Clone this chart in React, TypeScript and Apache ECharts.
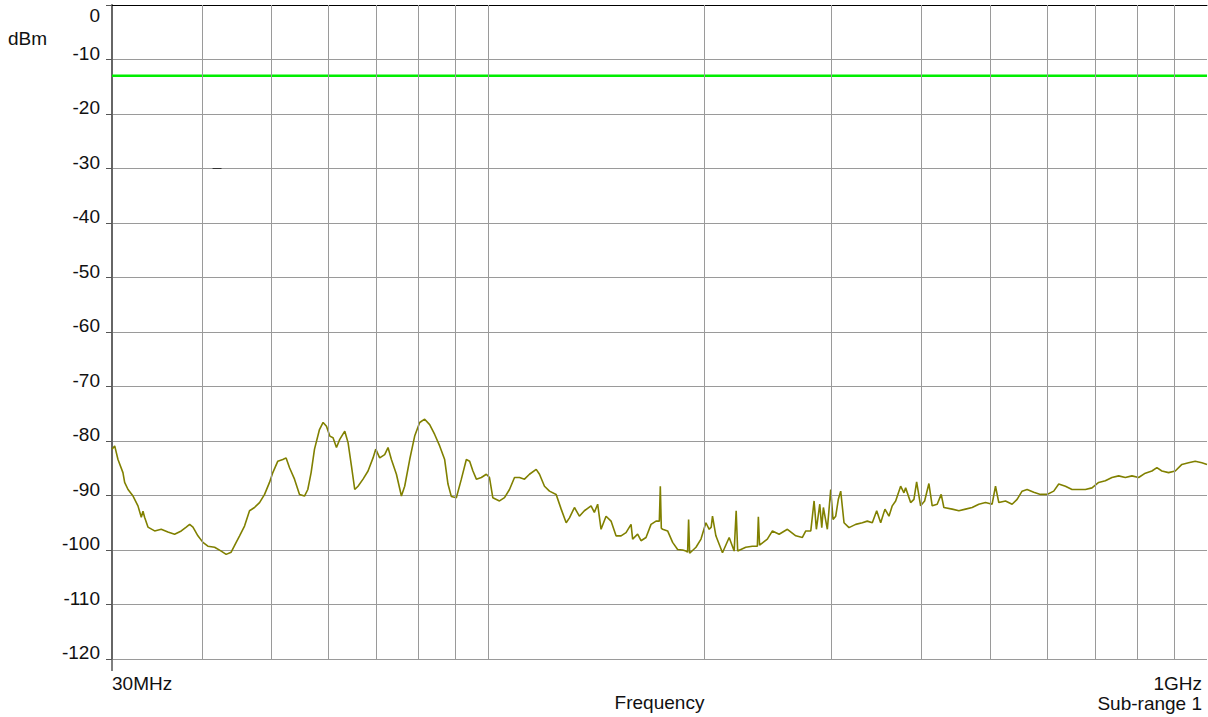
import React, { useEffect, useRef } from "react";
import * as echarts from "echarts";

// ---- data ----
const traceFreqMHz: number[] = [
  30.0, 30.26, 30.58, 31.07, 31.24, 31.58, 32.09, 32.6, 32.95, 33.13, 33.3, 33.66, 34.39, 35.12, 35.88,
  36.66, 37.45, 38.05, 38.47, 38.88, 39.5, 40.14, 40.78, 41.67, 42.56, 43.24, 43.94, 44.65, 45.14, 45.86,
  46.6, 47.35, 48.12, 48.9, 49.68, 50.21, 51.02, 51.84, 52.39, 52.97, 53.82, 54.69, 55.57, 56.16, 56.76,
  57.38, 58.3, 58.98, 59.62, 60.26, 60.89, 61.56, 62.21, 63.22, 63.89, 64.59, 65.27, 65.96, 67.03, 68.11,
  69.21, 69.81, 70.7, 71.84, 72.61, 73.4, 74.59, 75.79, 76.59, 77.83, 79.08, 80.36, 81.65, 82.97, 84.31,
  85.67, 87.05, 87.98, 88.94, 90.37, 91.83, 93.31, 94.3, 95.3, 96.35, 97.9, 99.48, 100.49, 101.56, 103.76,
  105.44, 107.14, 108.87, 110.63, 112.41, 114.22, 116.7, 117.94, 119.84, 121.77, 124.41, 126.42, 128.46,
  129.82, 131.91, 134.0, 136.17, 139.12, 140.59, 142.09, 143.64, 145.96, 148.31, 150.7, 153.14, 155.61,
  158.12, 158.93, 161.49, 163.26, 165.89, 168.57, 171.29, 173.11, 173.66, 174.22, 174.94, 177.77, 180.64,
  183.55, 186.51, 188.55, 189.52, 190.13, 190.74, 194.68, 197.82, 200.95, 203.09, 204.39, 205.24, 207.48,
  211.91, 216.5, 219.99, 221.41, 222.47, 228.31, 233.19, 236.95, 237.71, 238.62, 244.64, 248.66, 254.05,
  260.89, 267.99, 273.71, 276.7, 281.17, 284.15, 286.24, 289.38, 291.23, 292.73, 296.47, 299.71, 301.93,
  304.54, 307.09, 309.45, 312.74, 317.78, 324.67, 331.59, 336.94, 342.38, 347.23, 351.71, 356.55, 361.15,
  364.98, 368.97, 374.92, 378.9, 380.96, 387.1, 391.22, 394.61, 399.68, 404.83, 410.43, 414.78, 421.47,
  426.89, 430.59, 442.18, 451.76, 461.53, 471.38, 481.58, 492.01, 502.51, 508.0, 513.4, 524.53, 535.73,
  544.37, 553.14, 562.07, 574.23, 586.7, 599.16, 612.14, 622.01, 635.47, 649.02, 663.1, 677.43, 691.9,
  706.86, 722.17, 737.56, 753.57, 769.89, 786.3, 803.36, 820.76, 838.27, 851.77, 865.5, 884.23, 903.38,
  922.66, 942.64, 962.98, 983.56, 1000,
];
const traceLevelDbm: number[] = [
  -81.5, -80.9, -83.4, -85.8, -87.6, -88.9, -90.1, -91.9, -94.0, -92.9, -94.0, -95.8, -96.5, -96.2, -96.7,
  -97.1, -96.5, -95.8, -95.3, -95.8, -97.4, -98.6, -99.3, -99.5, -100.2, -100.8, -100.4, -98.6, -97.4, -95.6,
  -92.8, -92.2, -91.3, -89.8, -87.6, -85.8, -83.7, -83.4, -83.1, -84.9, -87.0, -89.8, -90.1, -88.9, -85.8,
  -81.5, -77.9, -76.6, -77.3, -79.1, -79.4, -81.2, -79.7, -78.2, -80.3, -84.6, -88.9, -88.3, -87.0, -85.5,
  -83.1, -81.5, -83.1, -82.5, -81.2, -83.4, -86.1, -90.1, -88.3, -83.4, -79.1, -76.6, -76.0, -77.0, -78.8,
  -80.9, -83.4, -87.9, -90.2, -90.4, -87.0, -83.4, -83.7, -85.5, -87.0, -86.7, -86.1, -86.7, -90.4, -91.0,
  -90.4, -88.9, -86.7, -86.7, -87.0, -86.1, -85.2, -86.1, -88.3, -89.2, -89.8, -92.5, -95.0,
  -94.1, -92.2, -93.8, -92.8, -91.9, -93.1, -91.6, -96.2, -93.8, -94.7, -97.4, -97.4, -96.8,
  -95.3, -98.0, -97.1, -98.3, -97.7, -95.3, -94.7, -94.7, -88.3, -96.0, -96.2, -96.5, -98.6,
  -99.9, -100.0, -100.2, -100.4, -94.4, -100.6, -99.5, -98.0, -95.0, -96.2, -95.8, -93.8, -97.4,
  -100.5, -97.7, -100.2, -92.8, -100.2, -99.5, -99.3, -99.3, -93.9, -99.1, -98.0, -96.5, -97.1,
  -96.2, -97.4, -97.7, -96.5, -96.5, -91.0, -96.2, -91.6, -95.9, -92.2, -96.2, -88.9, -94.4,
  -93.8, -90.7, -89.2, -95.0, -95.9, -95.3, -95.0, -94.7, -95.0, -92.8, -95.0, -92.5, -93.8,
  -91.9, -91.0, -88.3, -89.5, -88.6, -91.3, -90.7, -87.5, -91.9, -91.0, -87.8, -91.9, -91.6,
  -89.8, -92.2, -92.5, -92.8, -92.5, -92.2, -91.6, -91.3, -91.6, -88.3, -91.3, -91.0, -91.6,
  -90.7, -89.2, -88.9, -89.4, -89.8, -89.8, -89.2, -87.9, -88.3, -88.9, -88.9, -88.9, -88.6,
  -87.6, -87.3, -86.7, -86.4, -86.7, -86.4, -86.7, -85.9, -85.5, -84.9, -85.5, -85.8, -85.5,
  -84.3, -84.0, -83.7, -84.0, -84.3,
];
const limitFreqMHz: number[] = [30, 1000];
const limitLevelDbm: number[] = [-13, -13];
const markerFreqMHz: number[] = [41.4, 42.6];
const markerLevelDbm: number[] = [-30, -30];
const gridFreqMHz: number[] = [40, 50, 60, 70, 80, 90, 100, 200, 300, 400, 500, 600, 700, 800, 900];
const xStartLabel = "30MHz";
const xEndLabel = "1GHz";
const xSubLabel = "Sub-range 1";
const xName = "Frequency";
const yUnit = "dBm";
const yMin = -120;
const yMax = 0;
const yStep = 10;
const xMin = 30;
const xMax = 1000;

const FONT = "'Liberation Sans', Arial, sans-serif";
const FS = 19;
const TXT = "#111111";

export default function App() {
  const ref = useRef<HTMLDivElement>(null);
  useEffect(() => {
    if (!ref.current) return;
    const chart = echarts.init(ref.current, undefined, { renderer: "svg" });
    const pairs = (xs: number[], ys: number[]) => xs.map((x, i) => [x, ys[i]]);
    chart.setOption({
      animation: false,
      backgroundColor: "#ffffff",
      grid: { left: 112, right: 1, top: 5, bottom: 57, containLabel: false },
      xAxis: {
        type: "log",
        logBase: 10,
        min: xMin,
        max: xMax,
        name: xName,
        nameLocation: "middle",
        nameGap: 34,
        nameTextStyle: { fontSize: FS, fontFamily: FONT, color: TXT },
        axisLine: { show: true, lineStyle: { color: "#000000", width: 1 } },
        axisTick: { show: false },
        axisLabel: { show: false },
        splitLine: { show: false },
        minorSplitLine: { show: false },
      },
      yAxis: {
        type: "value",
        min: yMin,
        max: yMax,
        interval: yStep,
        axisLine: { show: true, lineStyle: { color: "#666666", width: 2 } },
        axisTick: { show: true, length: 6, lineStyle: { color: "#555555" } },
        axisLabel: {
          margin: 12,
          verticalAlign: "middle",
          formatter: (v: number) => (v === 0 ? `{t|${v}}` : `{b|${v}}`),
          rich: {
            t: { fontSize: FS, fontFamily: FONT, color: TXT, padding: [21, 0, 0, 0] },
            b: { fontSize: FS, fontFamily: FONT, color: TXT, padding: [0, 0, 13, 0] },
          },
        },
        splitLine: { show: true, lineStyle: { color: "#9a9a9a", width: 1 } },
      },
      graphic: [
        { type: "text", x: 8, y: 29, style: { text: yUnit, font: `${FS}px ${FONT}`, fill: TXT } },
        { type: "text", x: 112, y: 674, style: { text: xStartLabel, font: `${FS}px ${FONT}`, fill: TXT, textAlign: "left" } },
        { type: "text", x: 1202, y: 674, style: { text: xEndLabel, font: `${FS}px ${FONT}`, fill: TXT, textAlign: "right" } },
        { type: "text", x: 1202, y: 694, style: { text: xSubLabel, font: `${FS}px ${FONT}`, fill: TXT, textAlign: "right" } },
        { type: "line", shape: { x1: 112, y1: 660, x2: 112, y2: 671 }, style: { stroke: "#000000", lineWidth: 1 } },
      ],
      series: [
        {
          name: "grid",
          type: "line",
          z: 1,
          data: pairs(markerFreqMHz, markerLevelDbm),
          showSymbol: false,
          lineStyle: { color: "#333333", width: 1 },
          markLine: {
            silent: true,
            symbol: ["none", "none"],
            label: { show: false },
            lineStyle: { color: "#9a9a9a", width: 1, type: "solid" },
            data: gridFreqMHz.map((f) => ({ xAxis: f })),
          },
        },
        {
          name: "trace",
          type: "line",
          z: 3,
          data: pairs(traceFreqMHz, traceLevelDbm),
          showSymbol: false,
          lineStyle: { color: "#808000", width: 1.6 },
        },
        {
          name: "limit",
          type: "line",
          z: 4,
          data: pairs(limitFreqMHz, limitLevelDbm),
          showSymbol: false,
          lineStyle: { color: "#00ee00", width: 2.5 },
        },
      ],
    });
    return () => chart.dispose();
  }, []);
  return (
    <div
      ref={ref}
      style={{ position: "absolute", left: 0, top: 0, width: 1208, height: 717, background: "#fff" }}
    />
  );
}
